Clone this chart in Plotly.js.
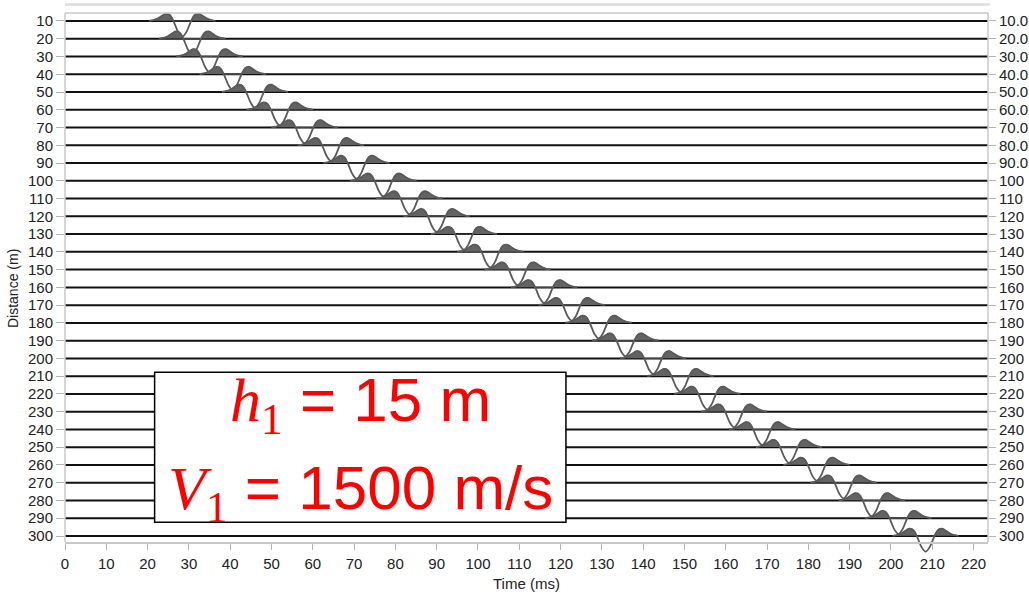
<!DOCTYPE html>
<html>
<head>
<meta charset="utf-8">
<script src="https://cdn.plot.ly/plotly-3.0.1.min.js"></script>
<style>
  html, body { margin: 0; padding: 0; background: #ffffff; }
  #chart { width: 1029px; height: 594px; }
</style>
</head>
<body>
<div id="chart"></div>
<script>
// ---------- data ----------
const DISTANCES = [10, 20, 30, 40, 50, 60, 70, 80, 90, 100,
                   110, 120, 130, 140, 150, 160, 170, 180, 190, 200,
                   210, 220, 230, 240, 250, 260, 270, 280, 290, 300];
// time (ms) of the trough of the wavelet on each trace
const ARRIVALS = [28.4, 30.8, 35.0, 40.6, 46.0, 52.0, 58.0, 64.4, 70.6, 77.1,
                  83.4, 90.0, 96.6, 103.0, 109.6, 116.0, 122.7, 129.2, 135.7, 142.4,
                  149.0, 155.5, 162.0, 168.8, 175.3, 182.0, 188.5, 195.3, 201.8, 208.4];
// wavelet shape: time offset (ms) from trough, amplitude (distance units, up = positive)
const WAVELET_DT  = [-8, -7, -6, -5, -4, -3, -2, -1, 0, 1, 2, 3, 4, 5, 6, 7, 8];
const WAVELET_AMP = [0.1, 0.45, 1.3, 2.75, 4.1, 3.4, -0.75, -6.2, -8.8, -6.2, -0.75, 3.4, 4.1, 2.75, 1.3, 0.45, 0.1];
const LEFT_TICKS  = ["10","20","30","40","50","60","70","80","90","100",
                     "110","120","130","140","150","160","170","180","190","200",
                     "210","220","230","240","250","260","270","280","290","300"];
const RIGHT_TICKS = ["10.0","20.0","30.0","40.0","50.0","60.0","70.0","80.0","90.0","100",
                     "110","120","130","140","150","160","170","180","190","200",
                     "210","220","230","240","250","260","270","280","290","300"];
const TIME_TICKS = [0, 10, 20, 30, 40, 50, 60, 70, 80, 90, 100, 110, 120, 130, 140, 150, 160, 170, 180, 190, 200, 210, 220];
const X_TITLE = "Time (ms)";
const Y_TITLE = "Distance (m)";
const BOX_LINE1 = '<span style="font-family:\'Liberation Serif\',serif"><i>h</i><sub>1</sub></span> = 15 m';
const BOX_LINE2 = '<span style="font-family:\'Liberation Serif\',serif"><i>V</i><sub>1</sub></span> = 1500 m/s';

// ---------- geometry (pixels -> paper) ----------
const PLOT_TOP = 13, PLOT_BOTTOM = 556, FRAME_BOTTOM = 542;
const PLOT_H = PLOT_BOTTOM - PLOT_TOP;
const AXIS_POS = (PLOT_BOTTOM - FRAME_BOTTOM) / PLOT_H;   // x axis drawn at the frame bottom

// ---------- build traces ----------
const traces = [];
const shapes = [];
DISTANCES.forEach(function (d, i) {
  const t0 = ARRIVALS[i];
  const xs = WAVELET_DT.map(function (dt) { return t0 + dt; });
  const yLine = WAVELET_AMP.map(function (a) { return d - a; });
  const yFill = WAVELET_AMP.map(function (a) { return d - Math.max(a, 0); });
  shapes.push({
    type: 'line', xref: 'paper', x0: 0, x1: 1, yref: 'y', y0: d, y1: d,
    line: { color: '#111111', width: 2 }, layer: 'below'
  });
  traces.push({
    type: 'scatter', mode: 'lines', x: xs, y: yFill,
    fill: 'toself', fillcolor: '#636363',
    line: { color: '#4a4a4a', width: 1, shape: 'spline', smoothing: 1 },
    hoverinfo: 'skip', showlegend: false
  });
  traces.push({
    type: 'scatter', mode: 'lines', x: xs, y: yLine,
    line: { color: '#5a5a5a', width: 1.8, shape: 'spline', smoothing: 1 },
    hoverinfo: 'skip', showlegend: false
  });
});
traces.push({
  type: 'scatter', mode: 'markers', x: [TIME_TICKS[0]], y: [DISTANCES[0]], yaxis: 'y2',
  marker: { opacity: 0 }, hoverinfo: 'skip', showlegend: false
});

// frame (light grey)
const frameLine = { color: '#c8c8c8', width: 1.5 };
shapes.push({ type: 'line', xref: 'paper', yref: 'paper', x0: 0, x1: 0, y0: AXIS_POS, y1: 1, line: frameLine });
shapes.push({ type: 'line', xref: 'paper', yref: 'paper', x0: 1, x1: 1, y0: AXIS_POS, y1: 1, line: frameLine });
shapes.push({ type: 'line', xref: 'paper', yref: 'paper', x0: 0, x1: 1, y0: 1, y1: 1, line: frameLine });
// light top rule above the plot
shapes.push({
  type: 'line', xref: 'paper', yref: 'paper', x0: 0, x1: 1.002,
  y0: 1 + 8.5 / PLOT_H, y1: 1 + 8.5 / PLOT_H,
  line: { color: '#dcdcdc', width: 2.5 }
});
// text box
shapes.push({
  type: 'rect', xref: 'x', yref: 'y', x0: 21.7, x1: 121.3, y0: 207.8, y1: 292.3,
  fillcolor: '#ffffff', line: { color: '#000000', width: 1.5 }, layer: 'above'
});

const tickFont = { family: "'Liberation Sans Narrow', 'Liberation Sans', Arial, sans-serif", size: 15, color: '#222222' };
const Y_RANGE = [311.26, 5.5];

const layout = {
  width: 1029, height: 594,
  margin: { l: 65, r: 41, t: PLOT_TOP, b: 594 - PLOT_BOTTOM, pad: 0 },
  paper_bgcolor: '#ffffff', plot_bgcolor: '#ffffff',
  showlegend: false,
  xaxis: {
    range: [0, 223.5], tickvals: TIME_TICKS, ticks: 'outside', ticklen: 6, tickwidth: 1, tickcolor: '#b5b5b5',
    anchor: 'free', position: AXIS_POS,
    showline: true, linecolor: '#c8c8c8', linewidth: 1.5,
    showgrid: false, zeroline: false, tickfont: tickFont, ticklabelstandoff: 1
  },
  yaxis: {
    range: Y_RANGE, tickvals: DISTANCES, ticktext: LEFT_TICKS, ticks: 'outside', ticklen: 8, tickwidth: 1, tickcolor: '#b5b5b5',
    showline: false, showgrid: false, zeroline: false, tickfont: tickFont
  },
  yaxis2: {
    range: Y_RANGE, overlaying: 'y', side: 'right', tickvals: DISTANCES, ticktext: RIGHT_TICKS,
    ticks: 'outside', ticklen: 7, tickwidth: 1, tickcolor: '#b5b5b5',
    showline: false, showgrid: false, zeroline: false, tickfont: tickFont
  },
  shapes: shapes,
  annotations: [
    { text: X_TITLE, xref: 'paper', yref: 'paper', x: 0.5, y: -(583 - PLOT_BOTTOM) / PLOT_H, xanchor: 'center', yanchor: 'middle',
      showarrow: false, font: { family: "'Liberation Sans', Arial, sans-serif", size: 15, color: '#222222' } },
    { text: Y_TITLE, xref: 'paper', yref: 'paper', x: -0.0563, y: 1 - (289 - PLOT_TOP) / PLOT_H, xanchor: 'center', yanchor: 'middle',
      textangle: -90, showarrow: false, font: { family: "'Liberation Sans', Arial, sans-serif", size: 14, color: '#222222' } },
    { text: BOX_LINE1, xref: 'x', yref: 'y', x: 71.5, y: 225.5, xanchor: 'center', yanchor: 'middle',
      showarrow: false, font: { family: "'Liberation Sans', Arial, sans-serif", size: 62, color: '#ff0000' } },
    { text: BOX_LINE2, xref: 'x', yref: 'y', x: 71.5, y: 275, xanchor: 'center', yanchor: 'middle',
      showarrow: false, font: { family: "'Liberation Sans', Arial, sans-serif", size: 62, color: '#ff0000' } }
  ]
};

Plotly.newPlot('chart', traces, layout, { staticPlot: true, displayModeBar: false });
</script>
</body>
</html>
